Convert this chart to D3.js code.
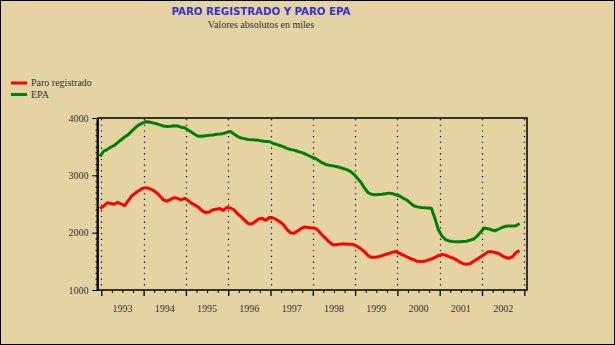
<!DOCTYPE html>
<html><head><meta charset="utf-8">
<script src="https://cdn.jsdelivr.net/npm/d3@7/dist/d3.min.js"></script>
<style>
html,body{margin:0;padding:0;background:#E5D3A3;}
svg{display:block;}
</style></head>
<body>
<script>
const titleText = "PARO REGISTRADO Y PARO EPA";
const subtitleText = "Valores absolutos en miles";
const seriesNames = ["Paro registrado", "EPA"];
const seriesColors = ["#FF0000", "#008000"];
const startYear = 1993;
const yearLabels = ["1993","1994","1995","1996","1997","1998","1999","2000","2001","2002"];
const yTicks = [1000, 2000, 3000, 4000];

const paroRegistrado = [
2420,2460,2520,2510,2495,2530,2500,2470,2560,2640,2690,2730,
2770,2785,2770,2740,2700,2640,2570,2550,2580,2610,2600,2570,
2600,2560,2510,2480,2440,2380,2350,2360,2400,2410,2420,2390,
2440,2430,2400,2330,2280,2220,2160,2150,2190,2240,2250,2215,
2265,2260,2230,2190,2140,2060,2000,1990,2030,2070,2100,2090,
2080,2080,2030,1960,1900,1840,1790,1790,1800,1805,1800,1800,
1790,1760,1720,1670,1600,1570,1570,1580,1600,1620,1640,1660,
1670,1640,1610,1580,1550,1530,1500,1495,1500,1520,1540,1570,
1600,1620,1610,1580,1560,1530,1490,1460,1450,1460,1500,1540,
1580,1620,1665,1670,1655,1640,1600,1570,1555,1580,1650,1690];

const paroEPA = [
3330,3420,3450,3490,3520,3570,3620,3670,3710,3770,3830,3880,
3910,3935,3930,3915,3900,3880,3860,3850,3855,3865,3860,3840,
3830,3790,3750,3710,3680,3680,3690,3700,3705,3715,3720,3730,
3750,3765,3720,3680,3650,3640,3625,3620,3615,3610,3600,3590,
3590,3560,3540,3520,3500,3470,3450,3440,3420,3400,3380,3350,
3320,3300,3260,3220,3190,3175,3165,3155,3140,3120,3100,3070,
3020,2950,2880,2780,2700,2670,2660,2665,2670,2680,2690,2680,
2660,2640,2600,2570,2520,2470,2450,2440,2435,2430,2425,2250,
2050,1940,1880,1855,1845,1840,1840,1845,1850,1870,1890,1940,
2010,2080,2070,2050,2030,2060,2090,2110,2115,2115,2120,2160];

const W = 615, H = 345;
const svg = d3.select("body").append("svg").attr("width", W).attr("height", H);
svg.append("rect").attr("x",0.5).attr("y",0.5).attr("width",W-1).attr("height",H-1)
  .attr("fill","#E5D3A3").attr("stroke","#000").attr("stroke-width",1);

const L = 98, R = 527, T = 118, B = 290;
const x = d3.scaleLinear().domain([1993 - 3.3/42.3, 2003 + 2.7/42.3]).range([L, R]);
const y = d3.scaleLinear().domain([1000, 4000]).range([B, T]);

// titles
svg.append("text").attr("x", 261).attr("y", 15).attr("text-anchor","middle")
  .attr("font-family","DejaVu Sans, sans-serif").attr("font-weight","bold").attr("font-size",10.2)
  .attr("fill","#3333CC").text(titleText);
svg.append("text").attr("x", 261).attr("y", 28).attr("text-anchor","middle")
  .attr("font-family","Liberation Serif, serif").attr("font-size",10)
  .attr("fill","#333").text(subtitleText);

// legend
seriesNames.forEach((n,i)=>{
  const ly = 83 + i*11.5;
  svg.append("line").attr("x1",11).attr("x2",27).attr("y1",ly).attr("y2",ly)
    .attr("stroke",seriesColors[i]).attr("stroke-width",3);
  svg.append("text").attr("x",31).attr("y",ly+3).attr("font-family","Liberation Serif, serif")
    .attr("font-size",10).attr("fill","#333").text(n);
});

// dotted year lines
const yearBounds = d3.range(startYear, startYear + yearLabels.length + 1);
svg.append("g").selectAll("line").data(yearBounds).join("line")
  .attr("x1", d=>Math.round(x(d))+0.5).attr("x2", d=>Math.round(x(d))+0.5)
  .attr("y1", T+1).attr("y2", B)
  .attr("stroke","#000").attr("stroke-width",1.2).attr("stroke-dasharray","1.2,4.5");

// y axis
const yAxis = d3.axisLeft(y).tickValues(yTicks).tickSize(6).tickFormat(d3.format("d"));
const gy = svg.append("g").attr("transform",`translate(${L},0)`).call(yAxis);
gy.select(".domain").remove();
gy.selectAll("text").attr("font-family","Liberation Serif, serif").attr("font-size",10).attr("fill","#333").attr("dx",-0.5);
gy.selectAll("line").attr("stroke","#000");
const yMinor = d3.axisLeft(y).tickValues(d3.range(1000,4001,100)).tickSize(2.5).tickFormat("");
const gym = svg.append("g").attr("transform",`translate(${L},0)`).call(yMinor);
gym.select(".domain").remove();

// x axis
const xAxis = d3.axisBottom(x).tickValues(yearBounds).tickSize(6).tickFormat("");
const gx = svg.append("g").attr("transform",`translate(0,${B})`).call(xAxis);
gx.select(".domain").remove();
gx.selectAll("line").attr("stroke","#000").attr("stroke-width",1.3);
const quarters = d3.range(startYear*4, (startYear+yearLabels.length)*4+1).map(q=>q/4).filter(q=>q%1!==0);
const xMinor = d3.axisBottom(x).tickValues(quarters).tickSize(3).tickFormat("");
const gxm = svg.append("g").attr("transform",`translate(0,${B})`).call(xMinor);
gxm.select(".domain").remove();
svg.append("g").selectAll("text").data(yearLabels).join("text")
  .attr("x",(d,i)=>x(startYear+i+0.5)).attr("y",B+22).attr("text-anchor","middle")
  .attr("font-family","Liberation Serif, serif").attr("font-size",10).attr("fill","#333").text(d=>d);

// frame
svg.append("rect").attr("x",L).attr("y",T).attr("width",R-L).attr("height",B-T)
  .attr("fill","none").attr("stroke","#000").attr("stroke-width",1.5);
svg.append("line").attr("x1",L-0.5).attr("x2",L-0.5).attr("y1",T).attr("y2",B+1)
  .attr("stroke","#000").attr("stroke-width",2);

// lines
const tOf = i => startYear + i/12 - 0.03;
const line = d3.line().x((d,i)=>x(tOf(i))).y(d=>y(d));
[paroRegistrado, paroEPA].forEach((s,k)=>{
  svg.append("path").datum(s).attr("d",line).attr("fill","none")
    .attr("stroke",seriesColors[k]).attr("stroke-width",3).attr("stroke-linejoin","round");
});
</script>
</body></html>
